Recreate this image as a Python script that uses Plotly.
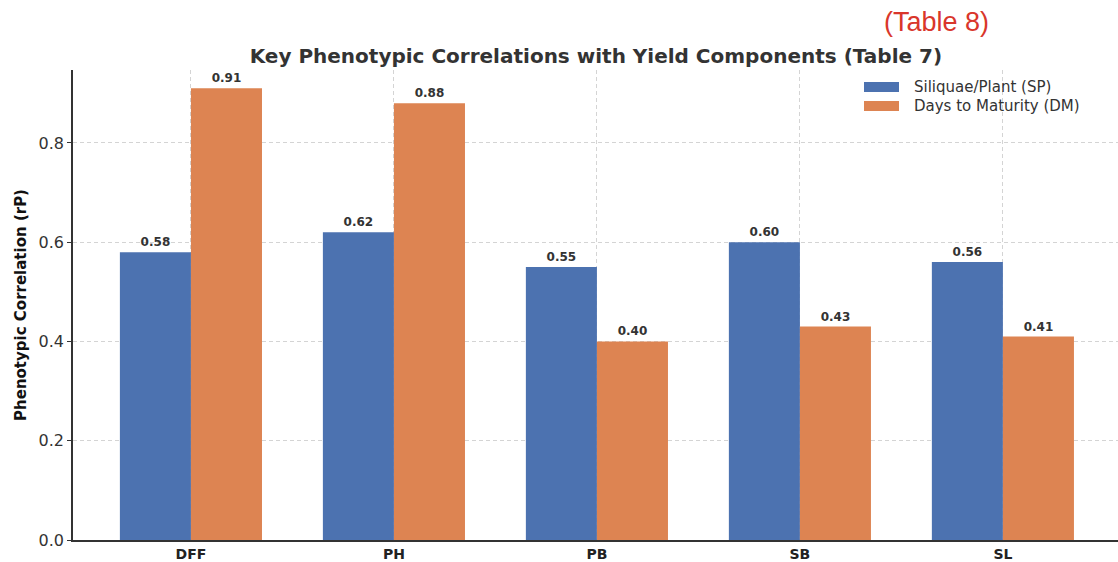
import plotly.graph_objects as go

categories = ["DFF", "PH", "PB", "SB", "SL"]
sp_values = [0.58, 0.62, 0.55, 0.60, 0.56]
dm_values = [0.91, 0.88, 0.40, 0.43, 0.41]
series_names = ["Siliquae/Plant (SP)", "Days to Maturity (DM)"]
y_ticks = [0.0, 0.2, 0.4, 0.6, 0.8]

idx = list(range(len(categories)))
w = 0.35
blue = "#4C72B0"
orange = "#DD8452"
colors = [blue, orange]

TOP, BOT = 70, 22
PH = 562 - TOP - BOT
YBASE = 562 - BOT

fig = go.Figure()
for vals, off, name, col in [(sp_values, -w / 2, series_names[0], blue),
                             (dm_values, w / 2, series_names[1], orange)]:
    fig.add_trace(go.Bar(
        x=[i + off for i in idx], y=vals, width=w, name=name,
        marker=dict(color=col, line=dict(width=0)),
        text=[f"{v:.2f}" for v in vals], textposition="outside",
        textfont=dict(family="DejaVu Sans", size=12, color="#333333", weight="bold"),
        cliponaxis=False, showlegend=False,
    ))

# legend drawn as patches + labels (paper coordinates)
shapes = []
annotations = []
leg_rows_px = [87, 106]
for k, (name, col) in enumerate(zip(series_names, colors)):
    yc = (YBASE - leg_rows_px[k]) / PH
    shapes.append(dict(type="rect", xref="paper", yref="paper",
                       x0=(864 - 73) / 1045, x1=(899 - 73) / 1045,
                       y0=yc - 5 / PH, y1=yc + 5 / PH,
                       fillcolor=col, line=dict(width=0)))
    annotations.append(dict(text=name, xref="paper", yref="paper",
                            x=(912 - 73) / 1045, y=yc, xanchor="left", yanchor="middle",
                            showarrow=False,
                            font=dict(family="DejaVu Sans", size=15, color="#333333")))

annotations.append(dict(
    text="(Table 8)", xref="paper", yref="paper", x=(936 - 73) / 1045, y=(YBASE - 22) / PH,
    xanchor="center", yanchor="middle", showarrow=False,
    font=dict(family="Liberation Sans", size=27, color="#D9362B"),
))

fig.update_layout(
    width=1118, height=562,
    margin=dict(l=73, r=0, t=TOP, b=BOT),
    plot_bgcolor="white", paper_bgcolor="white",
    barmode="overlay",
    showlegend=False,
    title=dict(text="<b>Key Phenotypic Correlations with Yield Components (Table 7)</b>",
               x=0.533, xanchor="center", y=1 - 56 / 562, yanchor="middle",
               font=dict(family="DejaVu Sans", size=20, color="#333333")),
    xaxis=dict(
        range=[-0.581, 4.567], tickvals=idx, ticktext=categories,
        showgrid=True, gridcolor="#d4d4d4", griddash="4px,3px", gridwidth=1,
        showline=True, linecolor="#333333", linewidth=1.5,
        ticks="",
        tickfont=dict(family="DejaVu Sans", size=14, color="#222222", weight="bold"),
        zeroline=False, automargin=False,
    ),
    yaxis=dict(
        range=[0, 0.953 * 470 / 473], tickvals=y_ticks, ticktext=[f"{t:.1f}" for t in y_ticks],
        showgrid=True, gridcolor="#d4d4d4", griddash="4px,3px", gridwidth=1,
        showline=True, linecolor="#333333", linewidth=1.5,
        ticks="outside", ticklen=4, tickcolor="#333333",
        tickfont=dict(family="DejaVu Sans", size=16, color="#333333"),
        zeroline=False, automargin=False,
        title=dict(text="<b>Phenotypic Correlation (rP)</b>", standoff=8,
                   font=dict(family="DejaVu Sans", size=15, color="#111111")),
    ),
    shapes=shapes,
    annotations=annotations,
)

fig.write_html("out.html", config={"displayModeBar": False},
               post_script="document.body.style.margin='0px';document.body.style.overflow='hidden';")
